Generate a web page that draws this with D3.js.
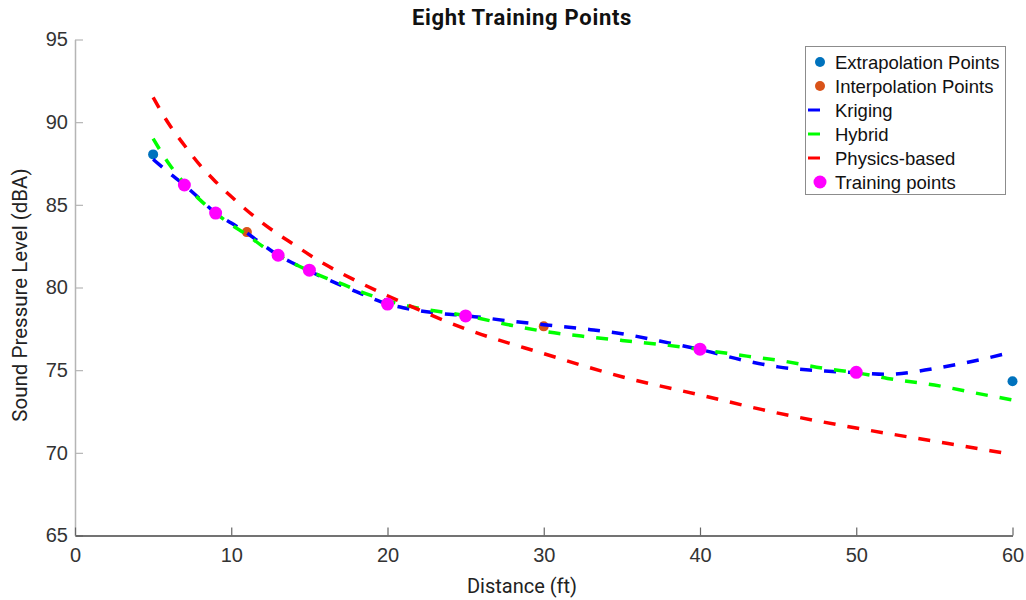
<!DOCTYPE html>
<html>
<head>
<meta charset="utf-8">
<script src="https://cdn.jsdelivr.net/npm/d3@7"></script>
<style>
  body { margin: 0; background: #fff; }
  svg { display: block; }
</style>
</head>
<body>
<svg id="chart" width="1026" height="600"></svg>
<script>
// values (x in ft, y in dBA)
var extrapX = [5, 60],
    extrapY = [88.05, 74.33];
var interpX = [11, 30],
    interpY = [83.35, 77.65];
var trainX = [7, 9, 13, 15, 20, 25, 40, 50],
    trainY = [86.2, 84.5, 81.95, 81.05, 79.0, 78.28, 76.27, 74.87];

var krigX = [5, 6, 7, 8, 9, 10, 11, 12, 13, 14, 15, 16, 17, 18, 19, 20, 21, 22, 23.5, 25, 28, 30, 33, 35, 38, 40, 43, 45, 48, 50, 52, 55, 58, 60],
    krigY = [87.75, 86.95, 86.2, 85.35, 84.5, 83.9, 83.3, 82.6, 81.95, 81.45, 81.0, 80.55, 80.15, 79.75, 79.35, 79.0, 78.78, 78.6, 78.42, 78.3, 77.95, 77.75, 77.45, 77.2, 76.65, 76.25, 75.55, 75.2, 74.95, 74.85, 74.75, 75.1, 75.65, 76.1];

var hybX = [5, 6, 7, 8, 9, 10, 11, 12, 13, 14, 15, 16, 17, 18, 20, 22, 25, 28, 30, 33, 35, 38, 40, 43, 45, 48, 50, 52, 55, 58, 60],
    hybY = [89.0, 87.5, 86.3, 85.3, 84.5, 83.8, 83.2, 82.5, 81.95, 81.45, 81.0, 80.6, 80.25, 79.85, 79.2, 78.75, 78.3, 77.7, 77.35, 77.0, 76.8, 76.5, 76.25, 75.85, 75.6, 75.1, 74.85, 74.5, 74.1, 73.55, 73.2];

var physX = [5, 6, 7, 8, 9, 10, 12, 14, 16, 18, 20, 25, 30, 35, 40, 45, 50, 55, 60],
    physY = [91.5, 89.9, 88.6, 87.4, 86.4, 85.5, 83.9, 82.6, 81.4, 80.4, 79.5, 77.5, 76.0, 74.6, 73.5, 72.4, 71.5, 70.7, 69.9];

var xTicks = [0, 10, 20, 30, 40, 50, 60],
    yTicks = [65, 70, 75, 80, 85, 90, 95];

var legendLabels = ["Extrapolation Points", "Interpolation Points", "Kriging", "Hybrid", "Physics-based", "Training points"];

// layout (plot area in pixels)
var plotL = 75, plotR = 1012.5, plotT = 39.5, plotB = 535.5;
var tickFont = "'Liberation Sans', Arial, sans-serif",
    labelFont = "Roboto, 'Liberation Sans', sans-serif";

var svg = d3.select("#chart");

var xScale = d3.scaleLinear().domain([0, 60]).range([plotL, plotR]);
var yScale = d3.scaleLinear().domain([65, 95]).range([plotB, plotT]);

// axes (ticks point inward)
var yAxis = svg.append("g")
    .attr("transform", "translate(" + plotL + ",0)")
    .call(d3.axisLeft(yScale).tickValues(yTicks).tickSize(-8).tickSizeOuter(0).tickPadding(7));
yAxis.select(".domain").attr("stroke", "#b5b5b5").attr("stroke-width", 1.5);
yAxis.selectAll(".tick line").attr("stroke", "#b5b5b5").attr("stroke-width", 1.2);
yAxis.selectAll(".tick text")
    .attr("font-family", tickFont).attr("font-size", 20).attr("fill", "#333");

var xAxis = svg.append("g")
    .attr("transform", "translate(0," + plotB + ")")
    .call(d3.axisBottom(xScale).tickValues(xTicks).tickSize(-8).tickSizeOuter(0).tickPadding(12));
xAxis.select(".domain").attr("stroke", "#444").attr("stroke-width", 1.5);
xAxis.selectAll(".tick line").attr("stroke", "#666").attr("stroke-width", 1.2);
xAxis.selectAll(".tick text")
    .attr("font-family", tickFont).attr("font-size", 20).attr("fill", "#333");

// labels
svg.append("text")
    .attr("x", 522).attr("y", 25)
    .attr("text-anchor", "middle")
    .attr("font-family", labelFont).attr("font-weight", "bold").attr("font-size", 22)
    .attr("letter-spacing", 0.7)
    .attr("fill", "#111")
    .text("Eight Training Points");

svg.append("text")
    .attr("x", 522).attr("y", 593)
    .attr("text-anchor", "middle")
    .attr("font-family", labelFont).attr("font-size", 20).attr("fill", "#222")
    .text("Distance (ft)");

svg.append("text")
    .attr("transform", "translate(27,295) rotate(-90)")
    .attr("text-anchor", "middle")
    .attr("font-family", labelFont).attr("font-size", 20.5).attr("fill", "#222")
    .text("Sound Pressure Level (dBA)");

// helpers
var zip = (xs, ys) => xs.map((x, i) => ({ x: x, y: ys[i] }));
var line = d3.line()
    .x(d => xScale(d.x))
    .y(d => yScale(d.y))
    .curve(d3.curveMonotoneX);

var drawDots = function (xs, ys, r, color) {
    svg.append("g").selectAll("circle")
        .data(zip(xs, ys))
        .join("circle")
        .attr("cx", d => xScale(d.x))
        .attr("cy", d => yScale(d.y))
        .attr("r", r)
        .attr("fill", color);
};
var drawCurve = function (xs, ys, color) {
    svg.append("path")
        .datum(zip(xs, ys))
        .attr("fill", "none")
        .attr("stroke", color)
        .attr("stroke-width", 3.5)
        .attr("stroke-dasharray", "12,12")
        .attr("d", line);
};

// same order as the legend
drawDots(extrapX, extrapY, 5, "#0072BD");
drawDots(interpX, interpY, 5, "#D95319");
drawCurve(krigX, krigY, "#0000FF");
drawCurve(hybX, hybY, "#00FF00");
drawCurve(physX, physY, "#FF0000");
drawDots(trainX, trainY, 6.5, "#FF00FF");

// legend
var legend = svg.append("g");
legend.append("rect")
    .attr("x", 805.5).attr("y", 46.5)
    .attr("width", 200).attr("height", 148)
    .attr("fill", "#fff").attr("stroke", "#8c8c8c").attr("stroke-width", 1);

var legendKinds = ["dot", "dot", "line", "line", "line", "dot"],
    legendColors = ["#0072BD", "#D95319", "#0000FF", "#00FF00", "#FF0000", "#FF00FF"],
    legendR = [5, 5, 0, 0, 0, 6.5];

var rows = legend.selectAll(".row")
    .data(legendLabels)
    .join("g")
    .attr("class", "row")
    .attr("transform", (d, i) => "translate(0," + (62 + i * 24) + ")");

rows.each(function (d, i) {
    let g = d3.select(this);
    if (legendKinds[i] == "dot") {
        g.append("circle").attr("cx", 820).attr("cy", 0)
            .attr("r", legendR[i]).attr("fill", legendColors[i]);
    } else {
        g.append("line").attr("x1", 808).attr("x2", 820)
            .attr("y1", 0).attr("y2", 0)
            .attr("stroke", legendColors[i]).attr("stroke-width", 3);
    }
    g.append("text")
        .attr("x", 835).attr("y", 6.5)
        .attr("font-family", tickFont).attr("font-size", 18.5).attr("fill", "#111")
        .text(d);
});
</script>
</body>
</html>
